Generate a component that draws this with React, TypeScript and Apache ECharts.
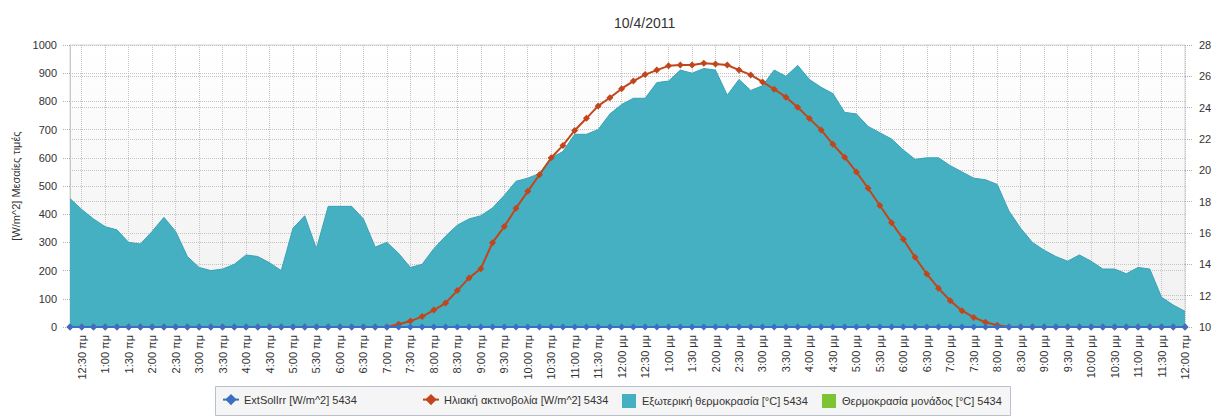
import React, { useEffect, useRef } from "react";
import * as echarts from "echarts";

const categories: string[] = [
  "12:15 πμ", "12:30 πμ", "12:45 πμ", "1:00 πμ", "1:15 πμ", "1:30 πμ", "1:45 πμ", "2:00 πμ",
  "2:15 πμ", "2:30 πμ", "2:45 πμ", "3:00 πμ", "3:15 πμ", "3:30 πμ", "3:45 πμ", "4:00 πμ",
  "4:15 πμ", "4:30 πμ", "4:45 πμ", "5:00 πμ", "5:15 πμ", "5:30 πμ", "5:45 πμ", "6:00 πμ",
  "6:15 πμ", "6:30 πμ", "6:45 πμ", "7:00 πμ", "7:15 πμ", "7:30 πμ", "7:45 πμ", "8:00 πμ",
  "8:15 πμ", "8:30 πμ", "8:45 πμ", "9:00 πμ", "9:15 πμ", "9:30 πμ", "9:45 πμ", "10:00 πμ",
  "10:15 πμ", "10:30 πμ", "10:45 πμ", "11:00 πμ", "11:15 πμ", "11:30 πμ", "11:45 πμ", "12:00 μμ",
  "12:15 μμ", "12:30 μμ", "12:45 μμ", "1:00 μμ", "1:15 μμ", "1:30 μμ", "1:45 μμ", "2:00 μμ",
  "2:15 μμ", "2:30 μμ", "2:45 μμ", "3:00 μμ", "3:15 μμ", "3:30 μμ", "3:45 μμ", "4:00 μμ",
  "4:15 μμ", "4:30 μμ", "4:45 μμ", "5:00 μμ", "5:15 μμ", "5:30 μμ", "5:45 μμ", "6:00 μμ",
  "6:15 μμ", "6:30 μμ", "6:45 μμ", "7:00 μμ", "7:15 μμ", "7:30 μμ", "7:45 μμ", "8:00 μμ",
  "8:15 μμ", "8:30 μμ", "8:45 μμ", "9:00 μμ", "9:15 μμ", "9:30 μμ", "9:45 μμ", "10:00 μμ",
  "10:15 μμ", "10:30 μμ", "10:45 μμ", "11:00 μμ", "11:15 μμ", "11:30 μμ", "11:45 μμ", "12:00 πμ",
];

// ExtSolIrr [W/m^2] (left axis)
const extSolIrr: number[] = [
  0, 0, 0, 0, 0, 0, 0, 0, 0, 0, 0, 0, 0, 0, 0, 0,
  0, 0, 0, 0, 0, 0, 0, 0, 0, 0, 0, 0, 0, 0, 0, 0,
  0, 0, 0, 0, 0, 0, 0, 0, 0, 0, 0, 0, 0, 0, 0, 0,
  0, 0, 0, 0, 0, 0, 0, 0, 0, 0, 0, 0, 0, 0, 0, 0,
  0, 0, 0, 0, 0, 0, 0, 0, 0, 0, 0, 0, 0, 0, 0, 0,
  0, 0, 0, 0, 0, 0, 0, 0, 0, 0, 0, 0, 0, 0, 0, 0,
];

// Ηλιακή ακτινοβολία [W/m^2] (left axis)
const solarRadiation: number[] = [
  0, 0, 0, 0, 0, 0, 0, 0, 0, 0, 0, 0, 0, 0, 0, 0,
  0, 0, 0, 0, 0, 0, 0, 0, 0, 0, 0, 0, 10, 21, 37, 60,
  85, 129, 174, 207, 299, 356, 421, 481, 540, 600, 644, 697, 740, 784, 813, 845,
  872, 895, 911, 926, 929, 929, 935, 933, 929, 911, 894, 869, 843, 815, 779, 739,
  699, 648, 602, 550, 492, 431, 370, 311, 247, 188, 137, 93, 58, 34, 17, 6,
  0, 0, 0, 0, 0, 0, 0, 0, 0, 0, 0, 0, 0, 0, 0, 0,
];

// Εξωτερική θερμοκρασία [°C] (right axis)
const outsideTemp: number[] = [
  18.2, 17.5, 16.9, 16.4, 16.2, 15.4, 15.3, 16.1, 17.0, 16.1, 14.5, 13.8, 13.6, 13.7, 14.0, 14.6,
  14.5, 14.1, 13.6, 16.3, 17.1, 15.0, 17.7, 17.7, 17.7, 16.9, 15.1, 15.4, 14.7, 13.8, 14.0, 15.0,
  15.8, 16.5, 16.9, 17.1, 17.6, 18.4, 19.3, 19.5, 19.8, 20.8, 21.2, 22.3, 22.3, 22.6, 23.6, 24.2,
  24.6, 24.6, 25.6, 25.7, 26.4, 26.2, 26.5, 26.4, 24.8, 25.8, 25.1, 25.4, 26.4, 26.0, 26.7, 25.8,
  25.3, 24.9, 23.7, 23.6, 22.8, 22.4, 22.0, 21.3, 20.7, 20.8, 20.8, 20.3, 19.9, 19.5, 19.4, 19.1,
  17.4, 16.3, 15.4, 14.9, 14.5, 14.2, 14.6, 14.2, 13.7, 13.7, 13.4, 13.8, 13.7, 11.9, 11.4, 11.0,
];

// Θερμοκρασία μονάδος [°C] (no values drawn)
const unitTemp: number[] = [];

const seriesNames = [
  "ExtSolIrr [W/m^2] 5434",
  "Ηλιακή ακτινοβολία [W/m^2] 5434",
  "Εξωτερική θερμοκρασία [°C] 5434",
  "Θερμοκρασία μονάδος [°C] 5434",
];

const FONT = "'Liberation Sans', Arial, sans-serif";
const showOdd = (idx: number) => idx % 2 === 1;
const SQUARE = "path://M0 0H10V10H0Z";

export default function App() {
  const ref = useRef<HTMLDivElement>(null);

  useEffect(() => {
    if (!ref.current) return;
    const chart = echarts.init(ref.current, undefined, { renderer: "svg" });
    const gridLine = { type: "dotted" as const, color: "#c4c4c4", width: 1 };
    const legendText = { fontFamily: FONT, fontSize: 11, color: "#333" };
    const legendLefts = [222, 422, 622, 822];
    const legends = seriesNames.map((n, i) => ({
      left: legendLefts[i],
      top: 394,
      padding: 0,
      itemWidth: 16,
      itemHeight: 14,
      itemGap: 5,
      selectedMode: false,
      textStyle: legendText,
      data: [i >= 2 ? { name: n, icon: SQUARE } : { name: n }],
    }));
    chart.setOption({
      animation: false,
      backgroundColor: "#ffffff",
      textStyle: { fontFamily: FONT },
      title: {
        text: "10/4/2011",
        left: 609,
        top: 11,
        textStyle: { fontFamily: FONT, fontSize: 14, fontWeight: "normal", color: "#333" },
      },
      graphic: [
        {
          type: "rect",
          left: 215,
          top: 386,
          shape: { width: 795, height: 29 },
          style: { fill: "#f5f5f5", stroke: "#b9c1cc", lineWidth: 1 },
          z: -1,
        },
      ],
      grid: {
        left: 70,
        right: 32,
        top: 45,
        bottom: 91,
        outerBoundsMode: "none",
        containLabel: false,
        show: true,
        borderColor: "#d4d4d4",
        borderWidth: 1,
        backgroundColor: new echarts.graphic.LinearGradient(0, 0, 0, 1, [
          { offset: 0, color: "#ffffff" },
          { offset: 1, color: "#f0f0f0" },
        ]),
      },
      legend: legends,
      xAxis: {
        type: "category",
        boundaryGap: false,
        data: categories,
        axisLine: { show: true, lineStyle: { color: "#c8c8c8" } },
        axisTick: { show: false },
        axisLabel: {
          interval: showOdd,
          rotate: 90,
          fontSize: 11,
          color: "#333",
          margin: 8,
          fontFamily: FONT,
        },
        splitLine: { show: true, interval: showOdd, lineStyle: gridLine },
      },
      yAxis: [
        {
          type: "value",
          position: "left",
          min: 0,
          max: 1000,
          interval: 100,
          name: "[W/m^2] Μεσαίες τιμές",
          nameLocation: "middle",
          nameGap: 43,
          nameTextStyle: { fontFamily: FONT, fontSize: 11, color: "#333" },
          axisLine: { show: true, lineStyle: { color: "#c8c8c8" } },
          axisTick: { show: true, length: 8, lineStyle: { type: "dotted", color: "#b0b0b0" } },
          axisLabel: {
            fontSize: 11,
            color: "#333",
            margin: 13,
            fontFamily: FONT,
            formatter: (v: number) => String(v),
          },
          splitLine: { show: true, lineStyle: gridLine },
        },
        {
          type: "value",
          position: "right",
          min: 10,
          max: 28,
          interval: 2,
          name: "[°C] Μεσαίες τιμές",
          nameLocation: "middle",
          nameGap: 29,
          nameTextStyle: { fontFamily: FONT, fontSize: 11, color: "#333" },
          axisLine: { show: false },
          axisTick: { show: true, length: 8, lineStyle: { type: "dotted", color: "#b0b0b0" } },
          axisLabel: { fontSize: 11, color: "#333", margin: 14, fontFamily: FONT },
          splitLine: { show: true, lineStyle: gridLine },
        },
      ],
      series: [
        {
          name: seriesNames[0],
          type: "line",
          yAxisIndex: 0,
          data: extSolIrr,
          color: "#3b6fc4",
          symbol: "diamond",
          symbolSize: 7,
          showSymbol: true,
          lineStyle: { width: 2, color: "#3b6fc4" },
          itemStyle: { color: "#3b6fc4" },
          z: 4,
        },
        {
          name: seriesNames[1],
          type: "line",
          yAxisIndex: 0,
          data: solarRadiation,
          color: "#c1461c",
          symbol: "diamond",
          symbolSize: 7,
          showSymbol: true,
          lineStyle: { width: 2, color: "#c1461c" },
          itemStyle: { color: "#c1461c" },
          z: 3,
        },
        {
          name: seriesNames[2],
          type: "line",
          yAxisIndex: 1,
          data: outsideTemp,
          color: "#45b0c2",
          symbol: "none",
          lineStyle: { width: 1, color: "#3ba2b4" },
          itemStyle: { color: "#45b0c2" },
          areaStyle: { color: "#45b0c2", opacity: 1, origin: "start" },
          z: 1,
        },
        {
          name: seriesNames[3],
          type: "line",
          yAxisIndex: 1,
          data: unitTemp,
          color: "#7cc433",
          symbol: "none",
          itemStyle: { color: "#7cc433" },
          lineStyle: { color: "#7cc433" },
          z: 2,
        },
      ],
    });
    return () => chart.dispose();
  }, []);

  return (
    <div
      ref={ref}
      style={{ position: "fixed", left: 0, top: 0, width: 1217, height: 418 }}
    />
  );
}
